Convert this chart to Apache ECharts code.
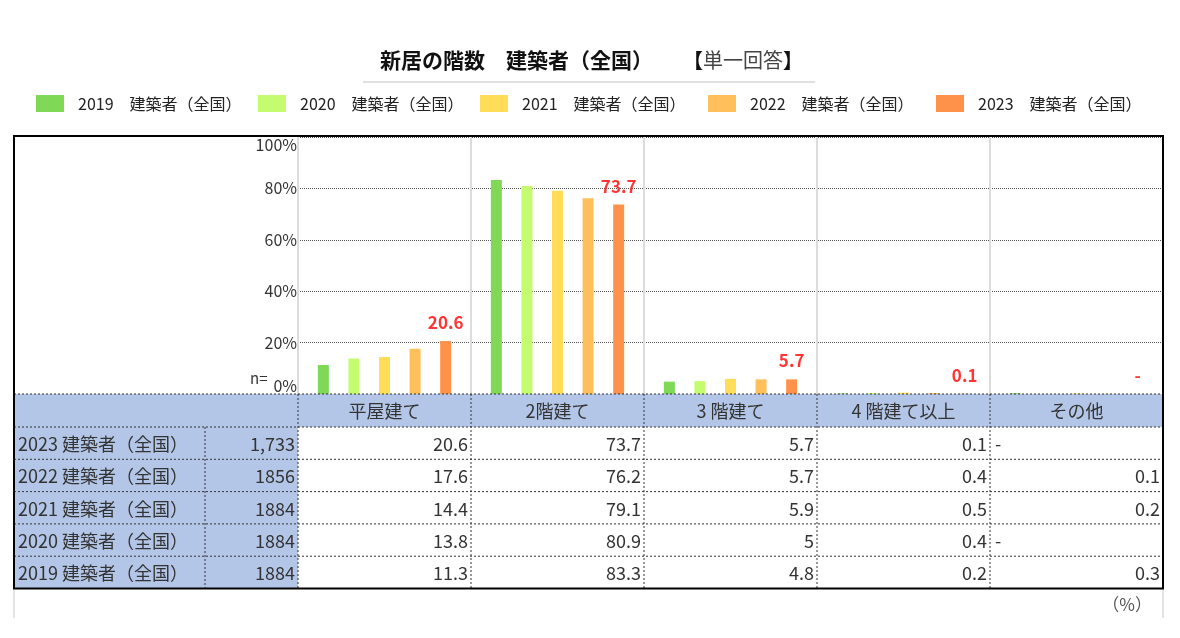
<!DOCTYPE html>
<html><head><meta charset="utf-8">
<script src="https://cdn.jsdelivr.net/npm/echarts@6/dist/echarts.min.js"></script>
<style>html,body{margin:0;padding:0;background:#fff}#c{width:1180px;height:638px}</style>
</head><body><div id="c"></div>
<script>
const categories = ['平屋建て', '2階建て', '3 階建て', '4 階建て以上', 'その他'];
const seriesNames = ['2019　建築者（全国）', '2020　建築者（全国）', '2021　建築者（全国）', '2022　建築者（全国）', '2023　建築者（全国）'];
const rowLabels = ['2023 建築者（全国）', '2022 建築者（全国）', '2021 建築者（全国）', '2020 建築者（全国）', '2019 建築者（全国）'];
const sampleSizes = ['1,733', '1856', '1884', '1884', '1884'];
const values2019 = [11.3, 83.3, 4.8, 0.2, 0.3];
const values2020 = [13.8, 80.9, 5, 0.4, null];
const values2021 = [14.4, 79.1, 5.9, 0.5, 0.2];
const values2022 = [17.6, 76.2, 5.7, 0.4, 0.1];
const values2023 = [20.6, 73.7, 5.7, 0.1, null];
const yTicks = [0, 20, 40, 60, 80, 100];
const colors = ['#7fd856', '#c3fd6f', '#ffdd58', '#ffbf5b', '#ff924b'];

const FONT = '"Noto Sans CJK JP", "Noto Sans", sans-serif';
const seriesValues = [values2019, values2020, values2021, values2022, values2023];
const tableRows = [values2023, values2022, values2021, values2020, values2019];
const legendLefts = [36, 258, 480, 708, 936];

const chart = echarts.init(document.getElementById('c'));

const series = seriesValues.map((vals, si) => ({
  name: seriesNames[si],
  type: 'bar',
  barWidth: 11,
  barGap: '178%',
  itemStyle: { color: colors[si] },
  data: vals.map(v => v == null ? { value: 0 } : v),
  label: si === 4 ? {
    show: true, position: 'top', distance: 10,
    color: '#ff3434', fontWeight: 'bold', fontSize: 17, fontFamily: FONT,
    formatter: p => (vals[p.dataIndex] == null ? '-' : String(vals[p.dataIndex]))
  } : { show: false }
}));

const option = {
  animation: false,
  backgroundColor: '#fff',
  title: {
    text: '新居の階数　建築者（全国）{s|}{b|【}{n|単一回答}{b|】}',
    left: 375, top: 45,
    textStyle: {
      fontSize: 21, fontWeight: 'bold', color: '#111', fontFamily: FONT,
      rich: {
        s: { width: 30, fontSize: 20 },
        b: { fontSize: 20, fontWeight: 'bold', color: '#111', fontFamily: FONT },
        n: { fontSize: 20, fontWeight: 'normal', color: '#444', fontFamily: FONT }
      }
    }
  },
  legend: seriesNames.map((n, i) => ({
    data: [n], left: legendLefts[i], top: 95, padding: 0,
    itemWidth: 28, itemHeight: 17, icon: 'rect', selectedMode: false,
    textStyle: { fontSize: 16, color: '#222', fontFamily: FONT, padding: [0, 0, 0, 9] }
  })),
  grid: { left: 298, right: 17, top: 137, bottom: 244, containLabel: false },
  xAxis: {
    type: 'category', data: categories,
    axisLine: { show: false }, axisTick: { show: false }, axisLabel: { show: false },
    splitLine: { show: true, lineStyle: { color: '#dcdcdc', width: 2 } }
  },
  yAxis: {
    type: 'value', min: yTicks[0], max: yTicks[yTicks.length - 1], interval: yTicks[1] - yTicks[0],
    axisLine: { show: false }, axisTick: { show: false },
    axisLabel: {
      formatter: '{value}%', fontSize: 16, color: '#333', fontFamily: FONT, margin: 1,
      verticalAlignMinLabel: 'bottom', verticalAlignMaxLabel: 'top'
    },
    splitLine: { show: true, lineStyle: { color: '#555', width: 1, type: [1, 1] } }
  },
  series: series
};
chart.setOption(option);

// ---- table drawn under the plot, aligned to the category axis ----
const c0 = chart.convertToPixel({ xAxisIndex: 0 }, categories[0]);
const c1 = chart.convertToPixel({ xAxisIndex: 0 }, categories[1]);
const colW = c1 - c0;
const gridLeft = c0 - colW / 2;
const gridRight = gridLeft + colW * categories.length;
const yBase = chart.convertToPixel({ yAxisIndex: 0 }, yTicks[0]);
const yTop = chart.convertToPixel({ yAxisIndex: 0 }, yTicks[yTicks.length - 1]);
const boxLeft = 14, nColLeft = 205;
const headerH = 33, rowH = 32.3;
const tableBottom = yBase + headerH + rowH * rowLabels.length;
const BLUE = '#b4c6e7';
const TXT = '#333';
const tf = '18px ' + FONT;

const els = [];
function txt(t, x, y, align, font, fill) {
  els.push({ type: 'text', z: 20, style: { text: t, x: x, y: y, align: align, textAlign: align, verticalAlign: 'middle', textVerticalAlign: 'middle', font: font || tf, fill: fill || TXT } });
}
function line(x1, y1, x2, y2, stroke, w, dash) {
  els.push({ type: 'line', z: 25, shape: { x1, y1, x2, y2 }, style: { stroke, lineWidth: w, lineDash: dash || null } });
}
els.push({ type: 'rect', z: 10, shape: { x: boxLeft, y: yBase, width: gridRight - boxLeft, height: headerH }, style: { fill: BLUE } });
els.push({ type: 'rect', z: 10, shape: { x: boxLeft, y: yBase, width: gridLeft - boxLeft, height: tableBottom - yBase }, style: { fill: BLUE } });
els.push({ type: 'rect', z: 10, shape: { x: gridLeft, y: yBase + headerH, width: gridRight - gridLeft, height: tableBottom - yBase - headerH }, style: { fill: '#fff' } });
categories.forEach((c, i) => txt(c, gridLeft + colW * (i + 0.5), yBase + headerH / 2 + 1, 'center'));
rowLabels.forEach((lab, r) => {
  const yc = yBase + headerH + rowH * (r + 0.5) + 1;
  txt(lab, boxLeft + 4, yc, 'left');
  txt(sampleSizes[r], gridLeft - 3, yc, 'right');
  tableRows[r].forEach((v, ci) => {
    if (v == null) txt('-', gridLeft + colW * ci + 5, yc, 'left');
    else txt(String(v), gridLeft + colW * (ci + 1) - 3, yc, 'right');
  });
});
const DOT = [2, 2];
line(boxLeft, yBase, gridRight, yBase, '#333', 1, DOT);
for (let r = 0; r < rowLabels.length; r++) {
  const y = yBase + headerH + rowH * r;
  line(boxLeft, y, gridRight, y, '#333', 1, DOT);
}
line(nColLeft, yBase + headerH, nColLeft, tableBottom, '#333', 1, DOT);
for (let k = 0; k < categories.length; k++) {
  const x = gridLeft + colW * k;
  line(x, yBase, x, tableBottom, '#333', 1, DOT);
}
els.push({ type: 'rect', z: 30, shape: { x: boxLeft, y: yTop - 1, width: gridRight - boxLeft, height: tableBottom - yTop + 1 }, style: { fill: 'none', stroke: '#000', lineWidth: 2 } });
line(boxLeft, tableBottom + 1, boxLeft, 618, '#e4e4e4', 2);
line(gridRight, tableBottom + 1, gridRight, 618, '#e4e4e4', 2);
line(363, 82, 815, 82, '#d6d6d6', 1.5);
txt('n=', 250, yBase - 16, 'left', '15px ' + FONT, '#333');
txt('（%）', 1152, 605, 'right', '17px ' + FONT, '#555');

chart.setOption({ graphic: { elements: els } });
</script>
</body></html>
